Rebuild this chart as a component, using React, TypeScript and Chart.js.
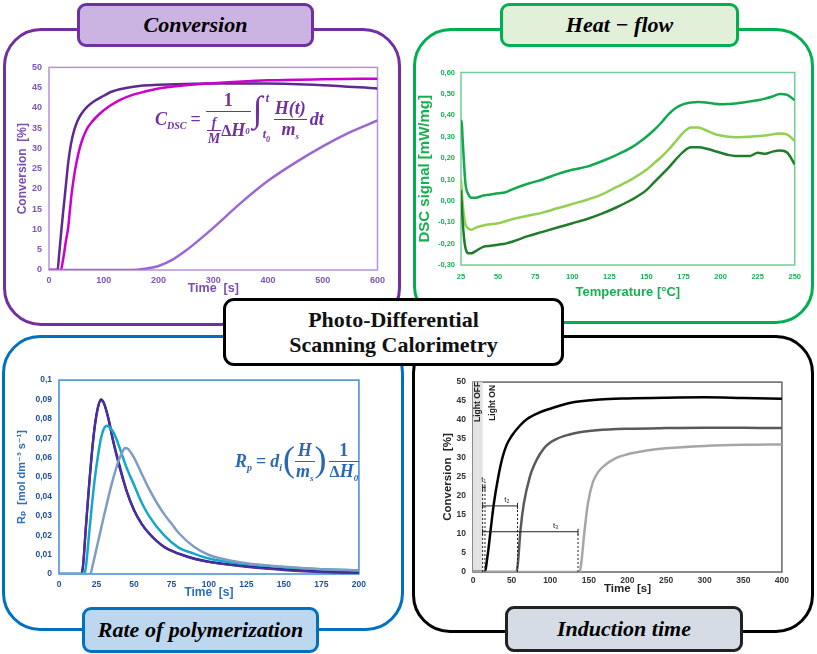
import React, { useEffect, useRef } from "react";
import { Chart, registerables } from "chart.js";

// ---------- Panel 1: Conversion vs time ----------
const convX = [0, 600, 100];
const convY = [0, 50, 5];
const convDarkT = [0, 15.7, 18, 20, 23, 26, 29, 32, 35, 40, 46, 52, 59, 70, 83, 100, 114, 140, 168, 200, 250, 300, 400, 500, 600];
const convDarkV = [0, 0, 3, 6, 10.4, 14.5, 18.4, 22.5, 26.4, 31, 34.5, 36.8, 38.5, 40.3, 41.7, 43, 44, 44.9, 45.5, 45.7, 45.9, 46, 46, 45.6, 44.8];
const convMagT = [0, 21.8, 25, 28, 31, 35, 38, 41, 45, 50, 58, 68, 80, 92, 110, 130, 150, 174, 200, 250, 300, 400, 500, 600];
const convMagV = [0, 0, 2, 4.5, 7.3, 10.4, 14.5, 18.4, 22.5, 26.4, 31, 34.5, 36.8, 38.5, 40.4, 42, 43.1, 44, 44.8, 45.6, 46.1, 46.8, 47.1, 47.2];
const convLightT = [0, 150, 175, 200, 225, 250, 275, 300, 350, 400, 450, 500, 550, 600];
const convLightV = [0, 0, 0.3, 1, 2.5, 4.8, 7.5, 10.4, 16.5, 22, 26.5, 30.5, 34, 36.9];

// ---------- Panel 2: Heat flow vs temperature ----------
const heatX = [25, 250, 25];
const heatY = [-0.3, 0.6, 0.1];
const heatTopT = [25, 25.5, 26, 27, 28, 30, 32, 35, 40, 45, 50, 55, 60, 70, 80, 90, 100, 110, 120, 130, 140, 150, 155, 160, 165, 170, 175, 180, 185, 190, 195, 200, 205, 210, 215, 220, 225, 230, 235, 240, 245, 250];
const heatTopV = [0.33, 0.375, 0.3, 0.18, 0.08, 0.03, 0.015, 0.015, 0.025, 0.03, 0.035, 0.04, 0.055, 0.08, 0.1, 0.125, 0.145, 0.16, 0.185, 0.215, 0.25, 0.3, 0.33, 0.365, 0.405, 0.435, 0.452, 0.46, 0.462, 0.46, 0.455, 0.452, 0.453, 0.455, 0.46, 0.465, 0.47, 0.478, 0.488, 0.5, 0.495, 0.47];
const heatMidT = [25, 26, 27, 28, 30, 32, 35, 40, 50, 60, 70, 80, 90, 100, 110, 120, 130, 140, 150, 155, 160, 165, 170, 175, 180, 185, 190, 195, 200, 210, 220, 230, 240, 245, 250];
const heatMidV = [0.1, 0.0, -0.07, -0.11, -0.13, -0.135, -0.125, -0.115, -0.105, -0.085, -0.07, -0.055, -0.035, -0.015, 0.005, 0.03, 0.065, 0.1, 0.145, 0.175, 0.205, 0.24, 0.28, 0.32, 0.343, 0.343, 0.33, 0.315, 0.305, 0.297, 0.3, 0.305, 0.315, 0.31, 0.28];
const heatLowT = [25, 26, 27, 28, 30, 32, 35, 40, 45, 50, 55, 60, 70, 80, 90, 100, 110, 120, 130, 140, 150, 155, 160, 165, 170, 175, 180, 185, 190, 195, 200, 205, 210, 215, 220, 225, 230, 235, 240, 245, 250];
const heatLowV = [0.05, -0.08, -0.17, -0.22, -0.245, -0.245, -0.235, -0.215, -0.21, -0.205, -0.2, -0.19, -0.165, -0.145, -0.125, -0.105, -0.085, -0.06, -0.03, 0.005, 0.05, 0.085, 0.12, 0.155, 0.195, 0.23, 0.25, 0.25, 0.245, 0.235, 0.225, 0.215, 0.21, 0.21, 0.21, 0.225, 0.22, 0.23, 0.235, 0.225, 0.17];

// ---------- Panel 3: Rate of polymerization ----------
const rateX = [0, 200, 25];
const rateY = [0, 0.1, 0.01];
const ratePurpleT = [0, 15.2, 16, 18, 20, 22, 24, 26, 28, 30, 33, 36, 40, 45, 50, 55, 60, 70, 80, 90, 100, 125, 150, 175, 200];
const ratePurpleV = [0, 0, 0.004, 0.025, 0.045, 0.063, 0.077, 0.086, 0.0895, 0.088, 0.08, 0.069, 0.056, 0.043, 0.033, 0.026, 0.021, 0.014, 0.0103, 0.0078, 0.0062, 0.0036, 0.002, 0.001, 0.0003];
const rateNavyT = [0, 15, 16, 18, 20, 22, 24, 26, 28, 30, 33, 36, 40, 45, 50, 55, 60, 70, 80, 90, 100, 125, 150, 175, 200];
const rateNavyV = [0, 0, 0.004, 0.025, 0.045, 0.063, 0.077, 0.086, 0.09, 0.088, 0.08, 0.069, 0.057, 0.043, 0.033, 0.026, 0.021, 0.014, 0.0105, 0.008, 0.0063, 0.004, 0.0025, 0.0015, 0.001];
const rateCyanT = [0, 17, 18, 20, 22, 24, 26, 28, 30, 32, 34, 37, 40, 45, 50, 55, 60, 70, 80, 90, 100, 125, 150, 175, 200];
const rateCyanV = [0, 0, 0.004, 0.02, 0.036, 0.05, 0.061, 0.07, 0.075, 0.0765, 0.0755, 0.072, 0.066, 0.055, 0.046, 0.037, 0.03, 0.02, 0.0135, 0.0105, 0.008, 0.005, 0.0035, 0.0025, 0.0018];
const rateGreyT = [0, 21, 22, 25, 30, 35, 40, 43, 44, 46, 50, 55, 60, 65, 70, 75, 80, 90, 100, 125, 150, 175, 200];
const rateGreyV = [0, 0, 0.003, 0.013, 0.03, 0.046, 0.059, 0.064, 0.065, 0.0645, 0.06, 0.052, 0.044, 0.037, 0.031, 0.026, 0.021, 0.014, 0.0098, 0.0055, 0.0038, 0.0025, 0.0018];

// ---------- Panel 4: Induction time ----------
const indX = [0, 400, 50];
const indY = [0, 50, 5];
const indBlackT = [0, 15.5, 18, 20, 22.8, 27, 32.7, 38, 43.4, 50, 60.6, 70, 86, 100, 125, 164, 200, 250, 300, 350, 400];
const indBlackV = [0, 0, 3, 6, 11, 18, 25, 30, 33.4, 35.8, 38.5, 40.3, 42, 43, 44.5, 45.4, 45.7, 45.9, 46, 45.8, 45.6];
const indDarkT = [0, 56.3, 58, 61.5, 65.8, 73.5, 80, 86.5, 95, 108, 125, 138, 160, 200, 250, 300, 350, 400];
const indDarkV = [0, 0, 2, 11, 18, 25, 28.5, 31, 33.3, 35, 36.2, 36.8, 37.3, 37.7, 37.9, 38, 38, 37.9];
const indLightT = [0, 138, 140, 144.5, 148.8, 155, 162, 170, 185, 200, 225, 250, 300, 350, 400];
const indLightV = [0, 0, 2, 11, 18, 23.5, 26.3, 28, 30, 31, 32, 32.6, 33.2, 33.5, 33.6];
const indBand = [0, 12.5];
const indSpanStart = [12.5, 12.5, 12.5];
const indSpanEnd = [15.5, 57.6, 136];
const indSpanLevel = [22.3, 17.4, 10.6];
const indSpanLabels = ["t\u2081", "t\u2082", "t\u2083"];
const indLabelX = [14, 44, 107];
const indLabelY = [24.3, 19, 12.2];
const lightTexts = ["Light OFF", "Light ON"];
const lightX = [5.5, 25];
const lightY = [39.5, 39.8];

const SANS = "'Liberation Sans', Arial, 'DejaVu Sans', sans-serif";
const SERIF = "'Liberation Serif', 'Times New Roman', 'DejaVu Serif', serif";

Chart.register(...registerables);

const plotFrame = {
  id: "plotFrame",
  beforeDatasetsDraw(chart: any, _a: any, opts: any) {
    if (!opts || !opts.color) return;
    const { ctx, chartArea: a } = chart;
    ctx.save();
    ctx.strokeStyle = opts.color;
    ctx.lineWidth = opts.width || 1.5;
    ctx.strokeRect(a.left, a.top, a.right - a.left, a.bottom - a.top);
    ctx.restore();
  },
};
Chart.register(plotFrame);

function pts(t: number[], v: number[]) {
  return t.map((x, i) => ({ x, y: v[i] }));
}

function line(t: number[], v: number[], color: string, width: number) {
  return {
    data: pts(t, v),
    borderColor: color,
    backgroundColor: color,
    borderWidth: width,
    pointRadius: 0,
    cubicInterpolationMode: "monotone",
    fill: false,
  };
}

function scales(o: any) {
  return {
    x: {
      type: "linear",
      min: o.x[0],
      max: o.x[1],
      grid: { display: false, drawTicks: false },
      border: { display: false },
      ticks: {
        stepSize: o.x[2],
        color: o.tickColor,
        font: { family: SANS, weight: "bold", size: o.tickSize },
        padding: o.xPad,
        maxRotation: 0,
        autoSkip: false,
        callback: o.xFmt || ((v: number) => String(v)),
      },
      title: {
        display: true,
        text: o.xTitle,
        color: o.titleColor,
        font: { family: SANS, weight: "bold", size: o.xTitleSize },
        padding: { top: 0, bottom: o.xTitlePad },
      },
      afterFit: (s: any) => {
        s.height = o.xH;
      },
    },
    y: {
      type: "linear",
      min: o.y[0],
      max: o.y[1],
      grid: { display: false, drawTicks: false },
      border: { display: false },
      ticks: {
        stepSize: o.y[2],
        color: o.tickColor,
        font: { family: SANS, weight: "bold", size: o.tickSize },
        padding: o.yPad,
        autoSkip: false,
        callback: o.yFmt || ((v: number) => String(v)),
      },
      title: {
        display: true,
        text: o.yTitle,
        color: o.titleColor,
        font: { family: SANS, weight: "bold", size: o.yTitleSize },
        padding: { top: o.yTitlePad, bottom: 0 },
      },
      afterFit: (s: any) => {
        s.width = o.yW;
      },
    },
  };
}

function baseOptions(o: any, padRight: number, padTop: number, frameColor: string) {
  return {
    responsive: false,
    animation: false,
    events: [],
    layout: { padding: { right: padRight, top: padTop, left: 0, bottom: 0 } },
    plugins: {
      legend: { display: false },
      tooltip: { enabled: false },
      plotFrame: { color: frameColor, width: 1.5 },
    },
    scales: scales(o),
  };
}

const commaFmt2 = (v: number) => v.toFixed(2).replace(".", ",");
const commaFmtShort = (v: number) => (Math.abs(v) < 1e-9 ? "0" : String(Number(v.toFixed(2))).replace(".", ","));

function makeConversion() {
  return {
    type: "line",
    data: {
      datasets: [
        line(convLightT, convLightV, "#9a68d0", 2.5),
        line(convMagT, convMagV, "#cc00cc", 2.5),
        line(convDarkT, convDarkV, "#5c2a90", 2.5),
      ],
    },
    options: baseOptions(
      {
        x: convX, y: convY, tickColor: "#8055b8", titleColor: "#7a4cb4", xTitle: "Time  [s]", yTitle: "Conversion  [%]",
        yW: 41, xH: 30, tickSize: 9, xTitleSize: 12.5, yTitleSize: 12, xPad: 5, yPad: 7, xTitlePad: 4, yTitlePad: 7,
      },
      10, 7, "#b592dc"
    ),
  };
}

function makeHeat() {
  return {
    type: "line",
    data: {
      datasets: [
        line(heatLowT, heatLowV, "#1f7d2a", 2.5),
        line(heatMidT, heatMidV, "#92d050", 2.5),
        line(heatTopT, heatTopV, "#12a84e", 2.5),
      ],
    },
    options: baseOptions(
      {
        x: heatX, y: heatY, tickColor: "#16b052", titleColor: "#16b052", xTitle: "Temperature [\u00b0C]", yTitle: "DSC signal [mW/mg]",
        yW: 48, xH: 35, yFmt: commaFmt2, tickSize: 7.5, xTitleSize: 13, yTitleSize: 15, xPad: 7, yPad: 6, xTitlePad: 0, yTitlePad: 3,
      },
      10, 8, "#6fcf92"
    ),
  };
}

function makeRate() {
  return {
    type: "line",
    data: {
      datasets: [
        line(rateGreyT, rateGreyV, "#7f9cc2", 2.5),
        line(rateCyanT, rateCyanV, "#16a6c9", 2.5),
        line(ratePurpleT, ratePurpleV, "#4e2f96", 2.2),
        line(rateNavyT, rateNavyV, "#1212aa", 2.4),
      ],
    },
    options: baseOptions(
      {
        x: rateX, y: rateY, tickColor: "#1f4e9c", titleColor: "#2e6fb8", xTitle: "Time  [s]", yTitle: "R\u209a  [mol dm\u207b\u00b3 s\u207b\u00b9]",
        yW: 49, xH: 26, yFmt: commaFmtShort, tickSize: 8.5, xTitleSize: 12, yTitleSize: 11, xPad: 6, yPad: 7, xTitlePad: 0, yTitlePad: 5,
      },
      10, 8, "#3f8bd0"
    ),
  };
}

function makeInduction() {
  const annot: any[] = [];
  for (let i = 0; i < indSpanStart.length; i++) {
    annot.push({
      data: [
        { x: indSpanStart[i], y: indSpanLevel[i] },
        { x: indSpanEnd[i], y: indSpanLevel[i] },
      ],
      borderColor: "#222",
      backgroundColor: "#222",
      borderWidth: 1,
      pointStyle: "line",
      rotation: 90,
      pointRadius: 3,
      pointBorderWidth: 1,
      fill: false,
    });
    annot.push({
      data: [
        { x: indSpanEnd[i], y: 0 },
        { x: indSpanEnd[i], y: indSpanLevel[i] },
      ],
      borderColor: "#222",
      borderWidth: 1,
      borderDash: [2, 2],
      pointRadius: 0,
      fill: false,
    });
  }
  annot.push({
    data: [
      { x: indSpanStart[0], y: 0 },
      { x: indSpanStart[0], y: Math.max(...indSpanLevel) },
    ],
    borderColor: "#222",
    borderWidth: 1,
    borderDash: [2, 2],
    pointRadius: 0,
    fill: false,
  });

  const indPlugin = {
    id: "indDecor",
    beforeDatasetsDraw(chart: any) {
      const { ctx, chartArea: a, scales: s } = chart;
      ctx.save();
      ctx.fillStyle = "#e3e3e3";
      const x0 = s.x.getPixelForValue(indBand[0]);
      const x1 = s.x.getPixelForValue(indBand[1]);
      ctx.fillRect(x0, a.top, x1 - x0, a.bottom - a.top);
      ctx.fillStyle = "#222";
      ctx.font = `bold 8.5px ${SANS}`;
      ctx.textBaseline = "middle";
      ctx.textAlign = "left";
      for (let i = 0; i < lightTexts.length; i++) {
        ctx.save();
        ctx.translate(s.x.getPixelForValue(lightX[i]), s.y.getPixelForValue(lightY[i]));
        ctx.rotate(-Math.PI / 2);
        ctx.fillText(lightTexts[i], 0, 0);
        ctx.restore();
      }
      ctx.font = `8px ${SANS}`;
      ctx.textAlign = "center";
      ctx.textBaseline = "bottom";
      for (let i = 0; i < indSpanLabels.length; i++) {
        ctx.fillText(indSpanLabels[i], s.x.getPixelForValue(indLabelX[i]), s.y.getPixelForValue(indLabelY[i]) + 4);
      }
      ctx.restore();
    },
  };

  return {
    type: "line",
    data: {
      datasets: [
        ...annot,
        line(indLightT, indLightV, "#a6a6a6", 2.5),
        line(indDarkT, indDarkV, "#595959", 2.5),
        line(indBlackT, indBlackV, "#000000", 2.5),
      ],
    },
    options: baseOptions(
      {
        x: indX, y: indY, tickColor: "#333", titleColor: "#222", xTitle: "Time  [s]", yTitle: "Conversion  [%]",
        yW: 53, xH: 28, tickSize: 8.5, xTitleSize: 11.5, yTitleSize: 11.5, xPad: 4, yPad: 7, xTitlePad: 4, yTitlePad: 21,
      },
      10, 7, "#666"
    ),
    plugins: [indPlugin],
  };
}

function ChartCanvas({ left, top, width, height, make }: any) {
  const ref = useRef<HTMLCanvasElement | null>(null);
  useEffect(() => {
    const c = new Chart(ref.current as any, make());
    return () => c.destroy();
  }, []);
  return <canvas ref={ref} width={width} height={height} style={{ position: "absolute", left, top, width, height }} />;
}

function Frame({ l, t, r, b, color }: any) {
  return (
    <div
      style={{
        position: "absolute",
        left: l,
        top: t,
        width: r - l,
        height: b - t,
        boxSizing: "border-box",
        border: `3px solid ${color}`,
        borderRadius: 38,
      }}
    />
  );
}

function Tab({ l, t, r, b, color, fill, text }: any) {
  return (
    <div
      style={{
        position: "absolute",
        left: l,
        top: t,
        width: r - l,
        height: b - t,
        boxSizing: "border-box",
        border: `3px solid ${color}`,
        borderRadius: 9,
        background: fill,
        display: "flex",
        alignItems: "center",
        justifyContent: "center",
        font: `italic bold 22px ${SERIF}`,
        color: "#000",
      }}
    >
      {text}
    </div>
  );
}

function Frac({ n, d, size, gap = 1 }: any) {
  return (
    <span style={{ display: "inline-flex", flexDirection: "column", alignItems: "center", margin: `0 ${gap}px`, fontSize: size }}>
      <span style={{ padding: "0 1px", lineHeight: 1.1 }}>{n}</span>
      <span style={{ borderTop: "1.5px solid currentColor", padding: "0 1px", lineHeight: 1.1, alignSelf: "stretch", textAlign: "center" }}>{d}</span>
    </span>
  );
}

const sub = (s: string, size = 10) => <sub style={{ fontSize: size, verticalAlign: "-4px", lineHeight: 0 }}>{s}</sub>;

function ConvEquation() {
  return (
    <div
      style={{
        position: "absolute",
        left: 155,
        top: 89,
        height: 60,
        display: "flex",
        alignItems: "center",
        color: "#7030a0",
        font: `italic bold 18px ${SERIF}`,
        whiteSpace: "nowrap",
      }}
    >
      <span>C{sub("DSC")}</span>
      <span style={{ fontStyle: "normal", margin: "0 4px" }}>=</span>
      <Frac
        n={<span style={{ fontStyle: "normal" }}>1</span>}
        d={
          <span style={{ display: "inline-flex", alignItems: "center" }}>
            <Frac n="f" d="M" size={14} gap={0} />
            <span style={{ fontStyle: "normal", fontSize: 16 }}>Δ</span>H{sub("0", 9)}
          </span>
        }
      />
      <span style={{ position: "relative", display: "inline-block", width: 20, height: 50, marginLeft: 1 }}>
        <span style={{ position: "absolute", left: 0, top: -3, fontSize: 36, fontStyle: "normal", fontWeight: "normal", lineHeight: 1 }}>∫</span>
        <span style={{ position: "absolute", left: 13, top: -3, fontSize: 12 }}>t</span>
        <span style={{ position: "absolute", left: 10, top: 33, fontSize: 12 }}>t{sub("0", 8)}</span>
      </span>
      <Frac n="H(t)" d={<span>m{sub("s", 9)}</span>} />
      <span style={{ marginLeft: 2 }}>dt</span>
    </div>
  );
}

function RateEquation() {
  return (
    <div
      style={{
        position: "absolute",
        left: 235,
        top: 438,
        height: 46,
        display: "flex",
        alignItems: "center",
        color: "#2a68b4",
        font: `italic bold 18px ${SERIF}`,
        whiteSpace: "nowrap",
      }}
    >
      <span>R{sub("p")}</span>
      <span style={{ fontStyle: "normal", margin: "0 4px" }}>=</span>
      <span>d{sub("i")}</span>
      <span style={{ fontStyle: "normal", fontWeight: "normal", fontSize: 36, lineHeight: 1, margin: "0 -1px 4px 1px" }}>(</span>
      <Frac n="H" d={<span>m{sub("s", 9)}</span>} />
      <span style={{ fontStyle: "normal", fontWeight: "normal", fontSize: 36, lineHeight: 1, margin: "0 1px 4px -1px" }}>)</span>
      <Frac
        n={<span style={{ fontStyle: "normal" }}>1</span>}
        d={
          <span>
            <span style={{ fontStyle: "normal", fontSize: 16 }}>Δ</span>H{sub("0", 9)}
          </span>
        }
      />
    </div>
  );
}

export default function App() {
  return (
    <div style={{ position: "absolute", left: 0, top: 0, width: 817, height: 654, background: "#fff", overflow: "hidden" }}>
      <Frame l={3} t={28} r={401} b={326} color="#7030a0" />
      <Frame l={413} t={28} r={814} b={324} color="#00b050" />
      <Frame l={2} t={335} r={404} b={631} color="#0070c0" />
      <Frame l={412} t={335} r={814} b={633} color="#000" />

      <ChartCanvas left={8} top={55} width={382} height={245} make={makeConversion} />
      <ChartCanvas left={413} top={62} width={395} height={238} make={makeHeat} />
      <ChartCanvas left={10} top={368} width={362} height={232} make={makeRate} />
      <ChartCanvas left={420} top={370} width={373} height={230} make={makeInduction} />

      <ConvEquation />
      <RateEquation />

      <Tab l={77} t={3} r={314} b={47} color="#7030a0" fill="#cbb4e2" text="Conversion" />
      <Tab l={500} t={3} r={739} b={47} color="#00b050" fill="#e2f0d9" text={"Heat \u2212 flow"} />
      <Tab l={82} t={607} r={319} b={653} color="#0070c0" fill="#bdd7ee" text="Rate of polymerization" />
      <Tab l={505} t={606} r={743} b={652} color="#222" fill="#d6dce5" text="Induction time" />

      <div
        style={{
          position: "absolute",
          left: 223,
          top: 298,
          width: 341,
          height: 68,
          boxSizing: "border-box",
          border: "3px solid #000",
          borderRadius: 11,
          background: "#fff",
          display: "flex",
          flexDirection: "column",
          alignItems: "center",
          justifyContent: "center",
          font: `bold 22px ${SERIF}`,
          lineHeight: "25px",
          color: "#111",
          textAlign: "center",
        }}
      >
        <div>Photo-Differential</div>
        <div>Scanning Calorimetry</div>
      </div>
    </div>
  );
}
